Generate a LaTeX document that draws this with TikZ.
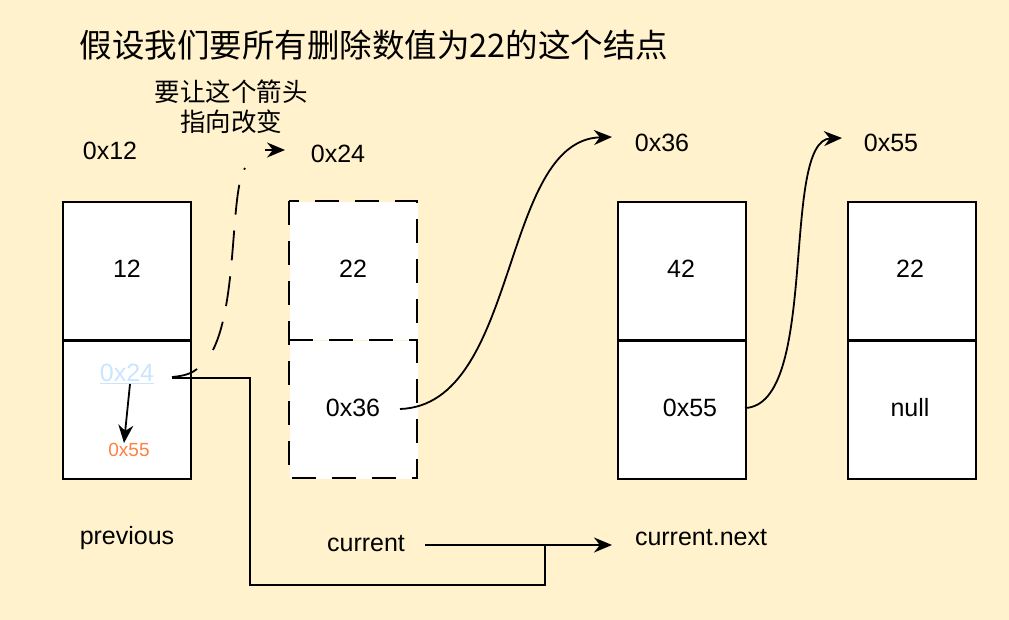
\documentclass[tikz,border=0pt]{standalone}
\usepackage{fontspec}
\setmainfont{Liberation Sans}
\newfontfamily\cjk{Noto Sans CJK SC}
\usetikzlibrary{arrows.meta}
\definecolor{bg}{HTML}{FFF2CC}
\definecolor{lblue}{HTML}{CCE5FF}
\definecolor{orng}{HTML}{FF8040}
\tikzset{cell/.style={draw,fill=white,line width=1.8pt,minimum width=128pt,minimum height=138pt,anchor=north west,inner sep=0},
 lbl/.style={font=\fontsize{25}{28}\selectfont},
 arr/.style={line width=1.8pt,-{Stealth[length=18pt,width=15pt]}},
 ln/.style={line width=1.8pt}}
\begin{document}
\begin{tikzpicture}[x=1pt,y=-1pt]
\fill[bg] (0,0) rectangle (1009,620);
\useasboundingbox (0,0) rectangle (1009,620);
\node[anchor=west,font=\cjk\fontsize{32.5}{36}\selectfont] (title) at (76,45) {假设我们要所有删除数值为22的这个结点};
\node[align=center,font=\cjk\fontsize{25.5}{30}\selectfont] (note) at (231,107) {要让这个箭头\\指向改变};
\node[cell] (a1) at (62,201) {}; \node[cell] (a2) at (62,340) {};
\node[cell,draw=none] (b1) at (289,201) {}; \node[cell,draw=none] (b2) at (289,340) {};
\draw[ln,dash pattern=on 24pt off 16pt] (289,201) rectangle (417,478) (289,340) -- (417,340);
\node[cell] (c1) at (617,201) {}; \node[cell] (c2) at (617,340) {};
\node[cell] (d1) at (847,201) {}; \node[cell] (d2) at (847,340) {};
\node[lbl] (v1) at (127,269) {12};
\node[lbl] (v2) at (353,269) {22};
\node[lbl] (v3) at (681,269) {42};
\node[lbl] (v4) at (910,269) {22};
\node[lbl] (p2) at (353,408) {0x36};
\node[lbl] (p3) at (690,408) {0x55};
\node[lbl] (p4) at (910,408) {null};
\node[lbl,text=lblue] (p1) at (127,374) {\underline{0x24}};
\node[text=orng,font=\fontsize{19}{22}\selectfont] (p1n) at (129,450) {0x55};
\node[lbl] (ad1) at (110,151) {0x12};
\node[lbl] (ad2) at (338,154) {0x24};
\node[lbl] (ad3) at (662,143) {0x36};
\node[lbl] (ad4) at (891,143) {0x55};
\node[lbl] (n1) at (127,538) {previous};
\node[lbl] (n2) at (366,544) {current};
\node[lbl] (n3) at (701,538) {current.next};
\coordinate (t2) at (612,137);
\coordinate (t3) at (842,138);
\coordinate (t1) at (285,150);
\coordinate (s1) at (213,350);
\draw[arr] (400,409) .. controls (520,405) and (500,140) .. (t2);
\draw[arr] (745,408) .. controls (820,405) and (780,140) .. (t3);
\draw[ln,dash pattern=on 30pt off 16pt] (s1) .. controls (238,300) and (230,190) .. (245,168);
\draw[arr] (265,150) -- (t1);
\draw[ln] (172,377) .. controls (185,376) and (192,373) .. (197,369);
\draw[ln] (172,378) -- (250,378) -- (250,585) -- (545,585) -- (545,545);
\draw[arr] (425,545) -- (612,545);
\draw[arr] (130,384) -- (124,443);
\end{tikzpicture}
\end{document}
